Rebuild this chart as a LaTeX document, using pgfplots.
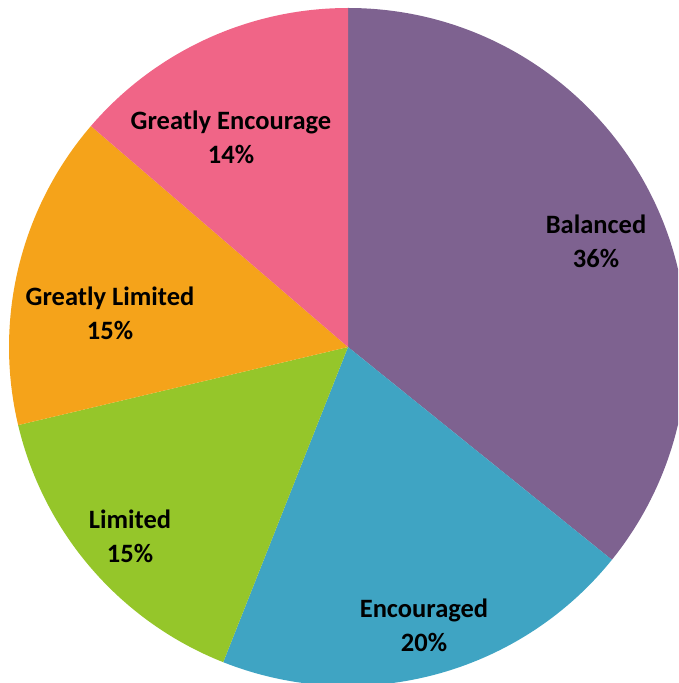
\documentclass[border=0pt]{standalone}
\usepackage{pgfplots}
\pgfplotsset{compat=1.18}
\usepackage{fontspec}
\setmainfont{Carlito}
\definecolor{cBal}{RGB}{126,98,144}
\definecolor{cEnc}{RGB}{63,164,195}
\definecolor{cLim}{RGB}{149,198,42}
\definecolor{cGL}{RGB}{245,163,26}
\definecolor{cGE}{RGB}{240,101,135}
\begin{document}
\begin{tikzpicture}
\begin{axis}[
  width=678pt, height=683pt, scale only axis,
  xmin=-348, xmax=330, ymin=-336, ymax=347,
  enlargelimits=false, hide axis, clip=true,
]
\addplot[draw=none] coordinates {(0,0)};
\pgfplotsextra{
  \gdef\cum{0}
  \foreach \v/\c in {35.8/cBal,20.2/cEnc,15.3/cLim,15.0/cGL,13.7/cGE}{
    \pgfmathsetmacro{\a}{90-3.6*\cum}
    \pgfmathsetmacro{\b}{90-3.6*(\cum+\v)}
    \fill[\c] (axis cs:0,0) -- (axis cs:{339*cos(\a)},{339*sin(\a)}) arc[start angle=\a, end angle=\b, radius=339pt] -- cycle;
    \pgfmathsetmacro{\n}{\cum+\v}
    \xdef\cum{\n}
  }
}
\tikzset{lbl/.style={align=center, font=\fontsize{26.5}{34}\selectfont\bfseries, text=black, inner sep=0pt}}
\node[lbl] at (axis cs:248,106) {Balanced\\36\%};
\node[lbl] at (axis cs:76,-278) {Encouraged\\20\%};
\node[lbl] at (axis cs:-218,-189) {Limited\\15\%};
\node[lbl] at (axis cs:-238,34) {Greatly Limited\\15\%};
\node[lbl] at (axis cs:-117,210) {Greatly Encourage\\14\%};
\end{axis}
\pgfresetboundingbox
\useasboundingbox (current axis.south west) rectangle (current axis.north east);
\end{tikzpicture}
\end{document}
